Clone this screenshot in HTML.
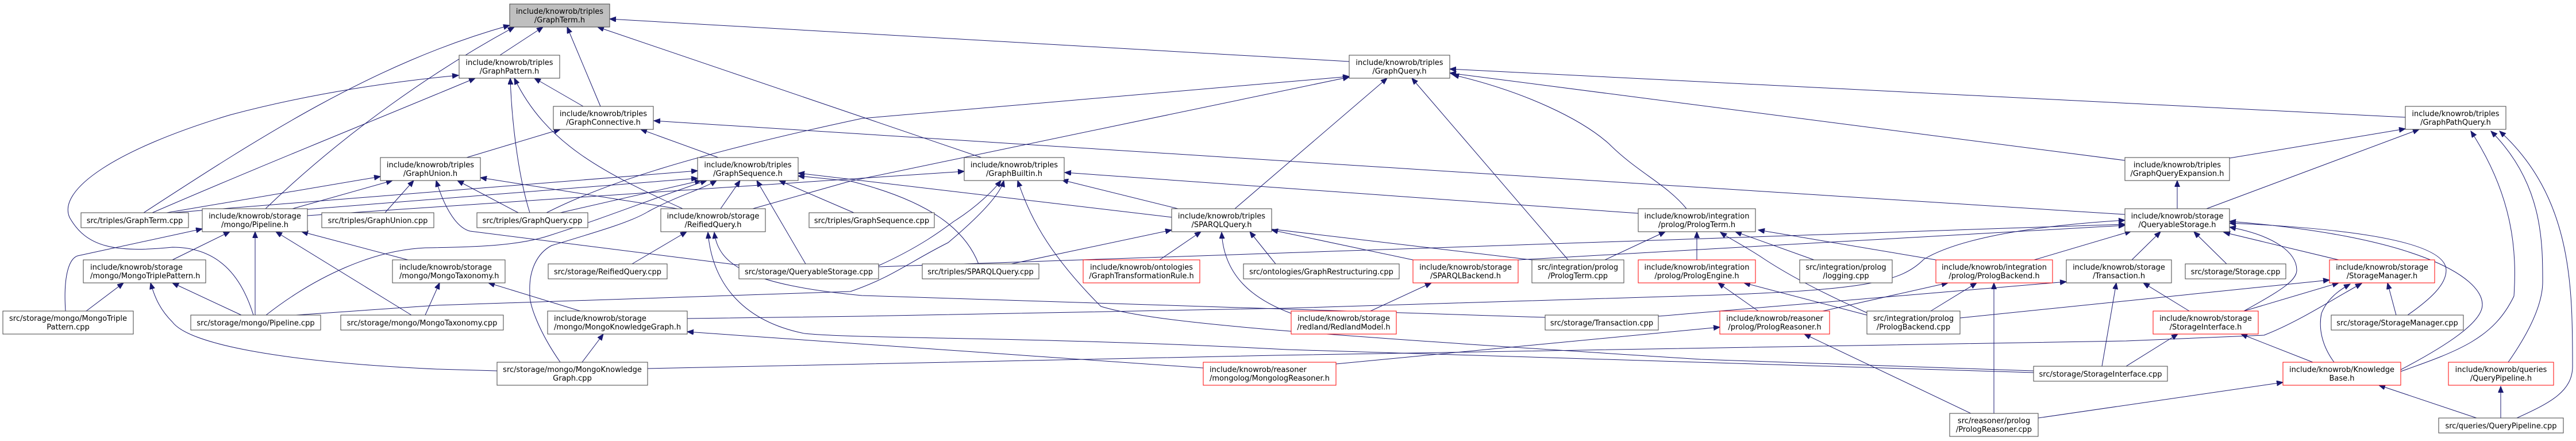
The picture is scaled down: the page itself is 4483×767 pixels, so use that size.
<!DOCTYPE html>
<html><head><meta charset="utf-8"><style>
html,body{margin:0;padding:0;background:#fff}
svg{display:block}
text{font-family:"DejaVu Sans","Liberation Sans",sans-serif;font-size:13px;fill:#000}
.n{fill:#fff;stroke:#404040;stroke-width:1}
.r{fill:#fff;stroke:#ff0000;stroke-width:1}
.g{fill:#bfbfbf;stroke:#404040;stroke-width:1}
.e{fill:none;stroke:#191970;stroke-width:1}
</style></head><body>
<svg width="4483" height="767" viewBox="0 0 4483 767" xmlns="http://www.w3.org/2000/svg">
<defs><marker id="a" markerWidth="12" markerHeight="10" refX="11" refY="4.5" orient="auto" markerUnits="userSpaceOnUse"><path d="M0,0 L11,4.5 L0,9 z" fill="#191970" stroke="#191970"/></marker></defs>
<g class="e" marker-end="url(#a)">
<path d="M870,96 L945,47"/>
<path d="M1045,185 L987,47"/>
<path d="M1708,274 L1040,47"/>
<path d="M2348,107 L1061,33"/>
<path d="M462,363 C600,230 760,120 895,47"/>
<path d="M250,370 C450,240 650,110 887,44"/>
<path d="M265,370 C450,290 650,210 827,136"/>
<path d="M441,548 C420,480 380,430 300,430 C200,440 150,430 121,378 C100,330 200,260 400,200 C550,160 700,140 798,131"/>
<path d="M114,541 C110,480 120,450 135,445 L352,398"/>
<path d="M1015,185 L930,136"/>
<path d="M922,370 C900,300 890,200 888,136"/>
<path d="M1188,363 C1050,300 950,250 895,136"/>
<path d="M812,274 L975,225"/>
<path d="M1250,274 L1115,225"/>
<path d="M3698,373 L1138,210"/>
<path d="M290,370 L662,307"/>
<path d="M509,363 L683,314"/>
<path d="M670,370 L720,314"/>
<path d="M902,370 L796,314"/>
<path d="M1179,363 L836,309"/>
<path d="M1286,461 L818,402 C790,395 770,350 759,314"/>
<path d="M300,370 L1214,297"/>
<path d="M535,364 L1214,310"/>
<path d="M975,370 L1220,314"/>
<path d="M463,548 C550,480 650,435 740,431 C820,430 900,428 955,410 C1050,380 1150,340 1230,314"/>
<path d="M975,630 C940,580 920,530 922,509 C920,470 935,440 960,427 C1050,400 1100,385 1128,368 C1180,340 1220,330 1247,314"/>
<path d="M1254,363 L1288,314"/>
<path d="M1402,459 L1317,314"/>
<path d="M1486,370 L1356,314"/>
<path d="M2666,452 L1389,301"/>
<path d="M1529,462 C1600,430 1640,400 1660,385 C1700,360 1730,330 1742,314"/>
<path d="M515,548 L760,531 L1480,507 C1553,482 1582,456 1650,422 C1700,380 1740,340 1747,314"/>
<path d="M1703,459 C1680,400 1620,350 1480,315 L1389,306"/>
<path d="M535,375 L1678,298"/>
<path d="M2851,371 L1853,300"/>
<path d="M2050,363 L1848,313"/>
<path d="M3539,645 L2960,625 C2240,579 2013,562 1916,533 C1819,436 1790,370 1771,314"/>
<path d="M2149,363 L2414,136"/>
<path d="M2729,452 L2457,136"/>
<path d="M2935,363 C2900,320 2850,300 2800,250 C2753,208 2656,160 2528,130"/>
<path d="M4186,204 L2523,120"/>
<path d="M3698,279 L2523,127"/>
<path d="M951,370 C1050,320 1200,270 1500,206 L2348,133"/>
<path d="M1310,363 L1480,315 L2348,134"/>
<path d="M3880,275 L4186,224"/>
<path d="M3840,363 L4210,225"/>
<path d="M4178,646 C4280,610 4340,588 4375,515 C4380,440 4375,343 4300,228"/>
<path d="M4365,630 C4400,580 4425,530 4425,490 C4425,420 4425,318 4335,228"/>
<path d="M4380,727 C4440,700 4477,680 4477,637 C4477,500 4477,343 4350,228"/>
<path d="M3789,363 L3789,314"/>
<path d="M3710,452 L3760,403"/>
<path d="M3875,459 L3818,403"/>
<path d="M4070,452 L3870,404"/>
<path d="M3905,541 C3960,510 3997,490 3997,470 C3997,440 3960,410 3880,395"/>
<path d="M4190,548 C4230,520 4257,495 4257,470 C4257,430 4150,400 3880,388"/>
<path d="M4178,643 C4260,600 4320,560 4320,530 C4320,480 4200,410 3880,385"/>
<path d="M1529,464 L3698,390"/>
<path d="M2642,452 L3698,392"/>
<path d="M1196,554 L1500,550 L2240,536 L2960,514 C3250,505 3309,490 3348,451 C3396,422 3500,395 3698,383"/>
<path d="M3540,452 L3709,402"/>
<path d="M1760,459 L2039,400"/>
<path d="M2018,452 L2090,403"/>
<path d="M2220,459 L2175,403"/>
<path d="M2459,452 L2213,400"/>
<path d="M2247,545 C2180,520 2130,480 2126,404"/>
<path d="M2385,541 L2491,492"/>
<path d="M2793,452 L2898,403"/>
<path d="M2953,452 L2953,403"/>
<path d="M3157,452 L3020,403"/>
<path d="M3369,452 L3060,400"/>
<path d="M3249,544 C3150,500 3100,470 3071,451 C3040,430 3010,415 2994,404"/>
<path d="M3060,541 L2990,492"/>
<path d="M3249,548 L3035,492"/>
<path d="M3172,541 L3390,492"/>
<path d="M3360,541 L3440,492"/>
<path d="M3470,719 L3470,492"/>
<path d="M2886,550 L3596,490"/>
<path d="M3658,637 L3683,492"/>
<path d="M3810,541 L3730,492"/>
<path d="M3905,541 L4070,492"/>
<path d="M4170,548 L4155,492"/>
<path d="M4062,630 C4040,600 4035,570 4040,545 C4050,520 4070,505 4090,494"/>
<path d="M3411,553 L4054,487"/>
<path d="M1127,641 L2220,618 L3700,593 L3940,583 C4000,560 4060,520 4110,493"/>
<path d="M3700,637 L3790,581"/>
<path d="M4025,630 L3900,581"/>
<path d="M3547,727 L3973,665"/>
<path d="M4310,727 L4140,670"/>
<path d="M4352,727 L4352,672"/>
<path d="M300,452 L400,403"/>
<path d="M444,548 L444,403"/>
<path d="M710,452 L525,403"/>
<path d="M716,548 L480,403"/>
<path d="M150,541 L215,492"/>
<path d="M420,548 L300,492"/>
<path d="M865,645 L760,642 C500,630 330,600 300,560 C280,540 270,520 262,492"/>
<path d="M740,548 L765,492"/>
<path d="M1010,541 L850,492"/>
<path d="M1013,630 L1050,581"/>
<path d="M2094,640 L1196,577"/>
<path d="M2325,633 L2993,569"/>
<path d="M3430,719 L3140,581"/>
<path d="M1100,459 L1195,403"/>
<path d="M3539,648 L2240,608 C1800,585 1500,590 1400,580 C1300,560 1240,500 1232,404"/>
<path d="M2689,552 L1500,514 C1300,495 1250,460 1243,404"/>
</g>
<rect class="g" x="887" y="7" width="174" height="40"/><text x="974" y="24" text-anchor="middle">include/knowrob/triples</text><text x="974" y="39" text-anchor="middle">/GraphTerm.h</text>
<rect class="n" x="799" y="96" width="175" height="40"/><text x="886.5" y="113" text-anchor="middle">include/knowrob/triples</text><text x="886.5" y="128" text-anchor="middle">/GraphPattern.h</text>
<rect class="n" x="2348" y="96" width="175" height="40"/><text x="2435.5" y="113" text-anchor="middle">include/knowrob/triples</text><text x="2435.5" y="128" text-anchor="middle">/GraphQuery.h</text>
<rect class="n" x="963" y="185" width="174" height="40"/><text x="1050" y="202" text-anchor="middle">include/knowrob/triples</text><text x="1050" y="217" text-anchor="middle">/GraphConnective.h</text>
<rect class="n" x="4186" y="185" width="175" height="40"/><text x="4273.5" y="202" text-anchor="middle">include/knowrob/triples</text><text x="4273.5" y="217" text-anchor="middle">/GraphPathQuery.h</text>
<rect class="n" x="662" y="274" width="174" height="40"/><text x="749" y="291" text-anchor="middle">include/knowrob/triples</text><text x="749" y="306" text-anchor="middle">/GraphUnion.h</text>
<rect class="n" x="1214" y="274" width="175" height="40"/><text x="1301.5" y="291" text-anchor="middle">include/knowrob/triples</text><text x="1301.5" y="306" text-anchor="middle">/GraphSequence.h</text>
<rect class="n" x="1678" y="274" width="174" height="40"/><text x="1765" y="291" text-anchor="middle">include/knowrob/triples</text><text x="1765" y="306" text-anchor="middle">/GraphBuiltin.h</text>
<rect class="n" x="3698" y="274" width="182" height="40"/><text x="3789" y="291" text-anchor="middle">include/knowrob/triples</text><text x="3789" y="306" text-anchor="middle">/GraphQueryExpansion.h</text>
<rect class="n" x="141" y="370" width="187" height="26"/><text x="234.5" y="388" text-anchor="middle">src/triples/GraphTerm.cpp</text>
<rect class="n" x="352" y="363" width="183" height="40"/><text x="443.5" y="380" text-anchor="middle">include/knowrob/storage</text><text x="443.5" y="395" text-anchor="middle">/mongo/Pipeline.h</text>
<rect class="n" x="560" y="370" width="195" height="26"/><text x="657.5" y="388" text-anchor="middle">src/triples/GraphUnion.cpp</text>
<rect class="n" x="830" y="370" width="193" height="26"/><text x="926.5" y="388" text-anchor="middle">src/triples/GraphQuery.cpp</text>
<rect class="n" x="1150" y="363" width="182" height="40"/><text x="1241" y="380" text-anchor="middle">include/knowrob/storage</text><text x="1241" y="395" text-anchor="middle">/ReifiedQuery.h</text>
<rect class="n" x="1408" y="370" width="218" height="26"/><text x="1517" y="388" text-anchor="middle">src/triples/GraphSequence.cpp</text>
<rect class="n" x="2039" y="363" width="174" height="40"/><text x="2126" y="380" text-anchor="middle">include/knowrob/triples</text><text x="2126" y="395" text-anchor="middle">/SPARQLQuery.h</text>
<rect class="n" x="2851" y="363" width="204" height="40"/><text x="2953" y="380" text-anchor="middle">include/knowrob/integration</text><text x="2953" y="395" text-anchor="middle">/prolog/PrologTerm.h</text>
<rect class="n" x="3698" y="363" width="182" height="40"/><text x="3789" y="380" text-anchor="middle">include/knowrob/storage</text><text x="3789" y="395" text-anchor="middle">/QueryableStorage.h</text>
<rect class="n" x="145" y="452" width="213" height="40"/><text x="157" y="469">include/knowrob/storage</text><text x="157" y="484">/mongo/MongoTriplePattern.h</text>
<rect class="n" x="683" y="452" width="196" height="40"/><text x="695" y="469">include/knowrob/storage</text><text x="695" y="484">/mongo/MongoTaxonomy.h</text>
<rect class="n" x="954" y="459" width="207" height="26"/><text x="1057.5" y="477" text-anchor="middle">src/storage/ReifiedQuery.cpp</text>
<rect class="n" x="1286" y="459" width="243" height="26"/><text x="1407.5" y="477" text-anchor="middle">src/storage/QueryableStorage.cpp</text>
<rect class="n" x="1605" y="459" width="203" height="26"/><text x="1706.5" y="477" text-anchor="middle">src/triples/SPARQLQuery.cpp</text>
<rect class="r" x="1885" y="452" width="203" height="40"/><text x="1986.5" y="469" text-anchor="middle">include/knowrob/ontologies</text><text x="1986.5" y="484" text-anchor="middle">/GraphTransformationRule.h</text>
<rect class="n" x="2164" y="459" width="271" height="26"/><text x="2299.5" y="477" text-anchor="middle">src/ontologies/GraphRestructuring.cpp</text>
<rect class="r" x="2459" y="452" width="183" height="40"/><text x="2550.5" y="469" text-anchor="middle">include/knowrob/storage</text><text x="2550.5" y="484" text-anchor="middle">/SPARQLBackend.h</text>
<rect class="n" x="2666" y="452" width="160" height="40"/><text x="2746" y="469" text-anchor="middle">src/integration/prolog</text><text x="2746" y="484" text-anchor="middle">/PrologTerm.cpp</text>
<rect class="r" x="2851" y="452" width="204" height="40"/><text x="2953" y="469" text-anchor="middle">include/knowrob/integration</text><text x="2953" y="484" text-anchor="middle">/prolog/PrologEngine.h</text>
<rect class="n" x="3132" y="452" width="161" height="40"/><text x="3212.5" y="469" text-anchor="middle">src/integration/prolog</text><text x="3212.5" y="484" text-anchor="middle">/logging.cpp</text>
<rect class="r" x="3369" y="452" width="203" height="40"/><text x="3470.5" y="469" text-anchor="middle">include/knowrob/integration</text><text x="3470.5" y="484" text-anchor="middle">/prolog/PrologBackend.h</text>
<rect class="n" x="3596" y="452" width="183" height="40"/><text x="3687.5" y="469" text-anchor="middle">include/knowrob/storage</text><text x="3687.5" y="484" text-anchor="middle">/Transaction.h</text>
<rect class="n" x="3803" y="459" width="175" height="26"/><text x="3890.5" y="477" text-anchor="middle">src/storage/Storage.cpp</text>
<rect class="r" x="4054" y="452" width="183" height="40"/><text x="4145.5" y="469" text-anchor="middle">include/knowrob/storage</text><text x="4145.5" y="484" text-anchor="middle">/StorageManager.h</text>
<rect class="n" x="5" y="541" width="227" height="40"/><text x="118.5" y="558" text-anchor="middle">src/storage/mongo/MongoTriple</text><text x="118.5" y="573" text-anchor="middle">Pattern.cpp</text>
<rect class="n" x="332" y="548" width="226" height="26"/><text x="445" y="566" text-anchor="middle">src/storage/mongo/Pipeline.cpp</text>
<rect class="n" x="593" y="548" width="283" height="26"/><text x="734.5" y="566" text-anchor="middle">src/storage/mongo/MongoTaxonomy.cpp</text>
<rect class="n" x="953" y="541" width="243" height="40"/><text x="964" y="558">include/knowrob/storage</text><text x="964" y="573">/mongo/MongoKnowledgeGraph.h</text>
<rect class="r" x="2247" y="541" width="183" height="40"/><text x="2338.5" y="558" text-anchor="middle">include/knowrob/storage</text><text x="2338.5" y="573" text-anchor="middle">/redland/RedlandModel.h</text>
<rect class="n" x="2689" y="548" width="197" height="26"/><text x="2787.5" y="566" text-anchor="middle">src/storage/Transaction.cpp</text>
<rect class="r" x="2993" y="541" width="191" height="40"/><text x="3088.5" y="558" text-anchor="middle">include/knowrob/reasoner</text><text x="3088.5" y="573" text-anchor="middle">/prolog/PrologReasoner.h</text>
<rect class="n" x="3249" y="541" width="162" height="40"/><text x="3330" y="558" text-anchor="middle">src/integration/prolog</text><text x="3330" y="573" text-anchor="middle">/PrologBackend.cpp</text>
<rect class="r" x="3747" y="541" width="183" height="40"/><text x="3838.5" y="558" text-anchor="middle">include/knowrob/storage</text><text x="3838.5" y="573" text-anchor="middle">/StorageInterface.h</text>
<rect class="n" x="4057" y="548" width="230" height="26"/><text x="4172" y="566" text-anchor="middle">src/storage/StorageManager.cpp</text>
<rect class="n" x="865" y="630" width="262" height="40"/><text x="996" y="647" text-anchor="middle">src/storage/mongo/MongoKnowledge</text><text x="996" y="662" text-anchor="middle">Graph.cpp</text>
<rect class="r" x="2094" y="630" width="231" height="40"/><text x="2105" y="647">include/knowrob/reasoner</text><text x="2105" y="662">/mongolog/MongologReasoner.h</text>
<rect class="n" x="3539" y="637" width="233" height="26"/><text x="3655.5" y="655" text-anchor="middle">src/storage/StorageInterface.cpp</text>
<rect class="r" x="3973" y="630" width="205" height="40"/><text x="4075.5" y="647" text-anchor="middle">include/knowrob/Knowledge</text><text x="4075.5" y="662" text-anchor="middle">Base.h</text>
<rect class="r" x="4261" y="630" width="183" height="40"/><text x="4352.5" y="647" text-anchor="middle">include/knowrob/queries</text><text x="4352.5" y="662" text-anchor="middle">/QueryPipeline.h</text>
<rect class="n" x="3393" y="719" width="154" height="40"/><text x="3470" y="736" text-anchor="middle">src/reasoner/prolog</text><text x="3470" y="751" text-anchor="middle">/PrologReasoner.cpp</text>
<rect class="n" x="4244" y="727" width="217" height="26"/><text x="4352.5" y="745" text-anchor="middle">src/queries/QueryPipeline.cpp</text>
</svg>
</body></html>
